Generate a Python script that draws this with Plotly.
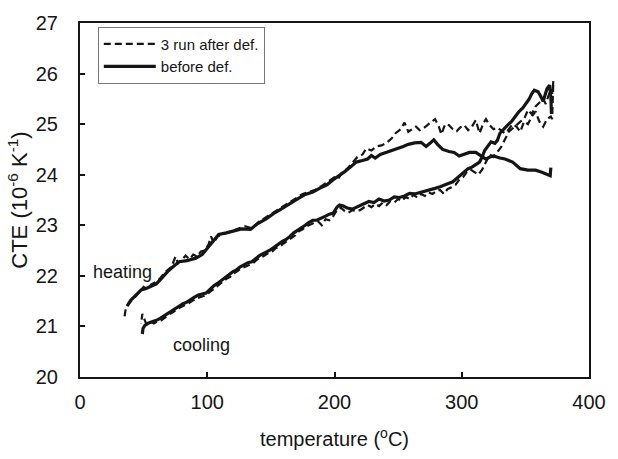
import plotly.graph_objects as go

# Heating branch, before deformation (solid)
heat_before_t = [37, 40, 44, 48, 52, 56, 60, 64, 69, 74, 78, 84, 91, 96, 100, 105, 109, 115, 121, 127,
                 134, 140, 146, 152, 158, 165, 171, 177, 183, 189, 194, 199, 204, 208, 213, 217, 222, 226,
                 229, 232, 236, 241, 247, 254, 258, 263, 268, 272, 275, 278, 281, 285, 290, 294, 298, 302,
                 306, 311, 315, 319, 322, 325, 330, 334, 340, 346, 352, 358, 363, 368, 369.5, 370]
heat_before_cte = [21.40, 21.52, 21.62, 21.72, 21.75, 21.80, 21.84, 21.95, 22.09, 22.20, 22.28, 22.30, 22.35,
                   22.42, 22.54, 22.68, 22.82, 22.85, 22.89, 22.93, 22.92, 23.04, 23.12, 23.23, 23.32, 23.42,
                   23.52, 23.61, 23.66, 23.74, 23.80, 23.90, 23.98, 24.06, 24.16, 24.25, 24.28, 24.31, 24.38,
                   24.33, 24.40, 24.44, 24.50, 24.56, 24.60, 24.63, 24.64, 24.56, 24.62, 24.69, 24.60, 24.50,
                   24.46, 24.44, 24.37, 24.40, 24.44, 24.44, 24.38, 24.31, 24.35, 24.37, 24.33, 24.31, 24.25,
                   24.12, 24.09, 24.09, 24.05, 23.99, 23.98, 24.14]

# Heating branch, 3rd run after deformation (dashed)
heat_after_t = [35, 36, 38, 41, 44, 47, 50, 53, 56, 60, 63, 66, 69, 72, 75, 77, 80, 83, 86, 89, 92, 95, 98,
                101, 103, 105, 108, 112, 116, 120, 125, 130, 135, 140, 145, 150, 155, 160, 165, 170, 175,
                180, 185, 190, 195, 200, 203, 206, 210, 214, 218, 222, 225, 229, 233, 237, 241, 245, 248,
                252, 255, 258, 261, 264, 267, 270, 273, 276, 279, 282, 284, 287, 290, 293, 296, 299, 302,
                305, 308, 311, 314, 317, 319, 322, 325, 328, 331, 334, 337, 340, 343, 346, 349, 352, 355,
                358, 361, 364, 367, 370, 371, 372]
heat_after_cte = [21.20, 21.35, 21.45, 21.52, 21.60, 21.70, 21.78, 21.74, 21.83, 21.88, 21.95, 22.05, 22.12,
                  22.18, 22.38, 22.25, 22.32, 22.40, 22.33, 22.42, 22.38, 22.48, 22.50, 22.62, 22.78, 22.65,
                  22.78, 22.82, 22.86, 22.90, 22.94, 22.98, 22.94, 23.06, 23.14, 23.22, 23.30, 23.38, 23.46,
                  23.55, 23.62, 23.66, 23.70, 23.78, 23.86, 23.95, 23.92, 24.05, 24.12, 24.24, 24.35, 24.40,
                  24.52, 24.48, 24.56, 24.58, 24.63, 24.72, 24.82, 24.90, 25.03, 24.85, 24.90, 24.95, 24.88,
                  24.92, 24.98, 25.05, 25.10, 24.95, 24.80, 25.00, 24.98, 24.90, 24.86, 24.94, 24.98, 24.88,
                  24.95, 25.08, 24.82, 25.02, 25.10, 24.98, 24.90, 24.93, 24.88, 24.82, 24.90, 25.00, 24.95,
                  24.85, 25.05, 25.00, 25.15, 25.25, 25.05, 24.95, 25.10, 25.15, 25.10, 25.85]

# Cooling branch, before deformation (solid)
cool_before_t = [370.5, 370, 369, 367, 366, 364, 362, 360, 357, 355, 353, 351, 348, 345, 342, 339, 336, 333,
                 330, 328, 326, 323, 320, 318, 316, 314, 311, 308, 305, 302, 299, 296, 293, 290, 286, 283,
                 279, 275, 271, 267, 263, 259, 255, 251, 247, 243, 239, 235, 231, 227, 223, 220, 217, 214,
                 210, 207, 204, 202, 199, 196, 193, 190, 186, 183, 180, 177, 174, 171, 168, 165, 162, 159,
                 156, 153, 150, 147, 144, 141, 138, 135, 132, 129, 126, 123, 120, 117, 114, 111, 108, 105,
                 102, 99, 96, 93, 90, 87, 84, 81, 78, 75, 72, 69, 66, 63, 60, 57, 54, 51, 49.5, 49]
cool_before_cte = [25.20, 25.55, 25.77, 25.70, 25.62, 25.45, 25.55, 25.64, 25.67, 25.60, 25.50, 25.42, 25.32,
                   25.25, 25.15, 25.05, 24.98, 24.90, 24.82, 24.68, 24.62, 24.65, 24.55, 24.48, 24.35, 24.25,
                   24.20, 24.15, 24.12, 24.05, 23.99, 23.92, 23.86, 23.83, 23.78, 23.76, 23.73, 23.70, 23.68,
                   23.65, 23.62, 23.63, 23.58, 23.55, 23.56, 23.50, 23.48, 23.52, 23.45, 23.47, 23.42, 23.40,
                   23.35, 23.32, 23.34, 23.38, 23.40, 23.36, 23.24, 23.22, 23.18, 23.14, 23.10, 23.10, 23.06,
                   23.00, 22.95, 22.90, 22.85, 22.78, 22.72, 22.68, 22.62, 22.58, 22.52, 22.48, 22.44, 22.40,
                   22.34, 22.28, 22.26, 22.22, 22.18, 22.12, 22.08, 22.02, 21.96, 21.90, 21.85, 21.80, 21.72,
                   21.66, 21.64, 21.62, 21.58, 21.52, 21.48, 21.45, 21.40, 21.36, 21.30, 21.26, 21.20, 21.16,
                   21.12, 21.10, 21.07, 21.02, 20.96, 20.85]

# Cooling branch, 3rd run after deformation (dashed)
cool_after_t = [372, 371, 370, 368, 366, 364, 361, 358, 355, 352, 349, 346, 343, 340, 337, 334, 331, 328,
                325, 322, 319, 316, 313, 310, 307, 304, 301, 298, 295, 292, 289, 286, 283, 280, 277, 274,
                271, 268, 265, 262, 259, 256, 253, 250, 247, 244, 241, 238, 235, 232, 229, 226, 223, 220,
                217, 214, 211, 208, 205, 202, 199, 196, 193, 190, 187, 184, 181, 178, 175, 172, 169, 166,
                163, 160, 157, 154, 151, 148, 145, 142, 139, 136, 133, 130, 127, 124, 121, 118, 115, 112,
                109, 106, 103, 100, 97, 94, 91, 88, 85, 82, 79, 76, 73, 70, 67, 64, 61, 58, 55, 52, 50, 49, 48]
cool_after_cte = [25.85, 25.60, 25.70, 25.55, 25.40, 25.50, 25.42, 25.35, 25.20, 25.28, 25.10, 25.05, 24.98,
                  24.92, 24.85, 24.70, 24.55, 24.45, 24.35, 24.40, 24.25, 24.10, 24.00, 24.05, 24.10, 24.05,
                  23.95, 23.90, 23.80, 23.75, 23.72, 23.62, 23.70, 23.68, 23.62, 23.65, 23.58, 23.62, 23.55,
                  23.60, 23.52, 23.56, 23.48, 23.52, 23.45, 23.48, 23.40, 23.45, 23.38, 23.42, 23.36, 23.40,
                  23.35, 23.30, 23.28, 23.30, 23.25, 23.28, 23.35, 23.30, 23.18, 23.10, 23.12, 23.00, 23.08,
                  23.05, 23.02, 22.98, 22.92, 22.88, 22.80, 22.75, 22.70, 22.64, 22.58, 22.55, 22.48, 22.45,
                  22.40, 22.36, 22.32, 22.25, 22.22, 22.18, 22.15, 22.10, 22.05, 21.98, 21.94, 21.88, 21.82,
                  21.76, 21.70, 21.64, 21.60, 21.58, 21.55, 21.50, 21.45, 21.42, 21.38, 21.34, 21.28, 21.24,
                  21.18, 21.12, 21.10, 21.06, 21.10, 21.05, 21.18, 21.25, 21.05]

x_ticks = [0, 100, 200, 300, 400]
y_ticks = [20, 21, 22, 23, 24, 25, 26, 27]

FONT = "Arial, Liberation Sans, sans-serif"
INK = "#151515"

fig = go.Figure()

dashed = dict(color=INK, width=2.2, dash="7px,4px")
solid = dict(color=INK, width=3.2)

fig.add_trace(go.Scatter(x=heat_after_t, y=heat_after_cte, mode="lines", line=dashed,
                         name="3 run after def.", legendgroup="after"))
fig.add_trace(go.Scatter(x=cool_after_t, y=cool_after_cte, mode="lines", line=dashed,
                         name="3 run after def.", legendgroup="after", showlegend=False))
fig.add_trace(go.Scatter(x=heat_before_t, y=heat_before_cte, mode="lines", line=solid,
                         name="before def.", legendgroup="before"))
fig.add_trace(go.Scatter(x=cool_before_t, y=cool_before_cte, mode="lines", line=solid,
                         name="before def.", legendgroup="before", showlegend=False))

fig.add_annotation(x=8.5, y=22.07, text="heating", showarrow=False, xanchor="left",
                   font=dict(family=FONT, size=18, color=INK))
fig.add_annotation(x=71.5, y=20.63, text="cooling", showarrow=False, xanchor="left",
                   font=dict(family=FONT, size=18, color=INK))

axis_common = dict(showline=True, linecolor=INK, linewidth=2, mirror=True,
                   ticks="inside", ticklen=5, tickwidth=2, tickcolor=INK,
                   showgrid=False, zeroline=False,
                   tickfont=dict(family=FONT, size=20, color=INK))

fig.update_xaxes(range=[0, 400], tickvals=x_ticks, ticklabelstandoff=6,
                 title=dict(text="temperature (<sup>o</sup>C)", standoff=20,
                            font=dict(family=FONT, size=20, color=INK)),
                 **axis_common)
fig.update_yaxes(range=[20, 27], tickvals=y_ticks, ticklabelstandoff=16,
                 title=dict(text="CTE (10<sup>-6</sup> K<sup>-1</sup>)", standoff=2,
                            font=dict(family=FONT, size=22, color=INK)),
                 **axis_common)

fig.update_layout(
    width=618, height=459,
    margin=dict(l=80, r=25, t=15, b=73),
    paper_bgcolor="white", plot_bgcolor="white",
    showlegend=True,
    legend=dict(x=0.035, y=0.99, xanchor="left", yanchor="top",
                bordercolor="#777777", borderwidth=1, bgcolor="white",
                font=dict(family=FONT, size=15, color=INK), traceorder="normal",
                tracegroupgap=0, itemwidth=52,
                entrywidth=142, entrywidthmode="pixels"),
)

fig.write_html("out.html")
